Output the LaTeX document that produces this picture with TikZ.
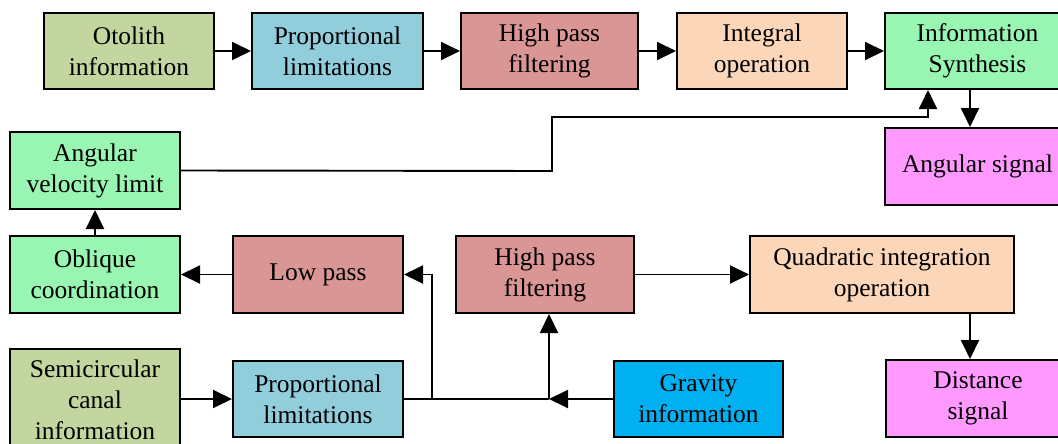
\documentclass[tikz,border=0pt]{standalone}
\usepackage{fontspec}
\setmainfont{Liberation Serif}
\usetikzlibrary{arrows.meta}
\definecolor{olivebox}{HTML}{C4D6A0}
\definecolor{bluebox}{HTML}{92CDDC}
\definecolor{rosebox}{HTML}{D99694}
\definecolor{peachbox}{HTML}{FBD6B9}
\definecolor{greenbox}{HTML}{98F5B2}
\definecolor{pinkbox}{HTML}{FF99FF}
\definecolor{skybox}{HTML}{00B0F0}
\tikzset{
  blk/.style={draw=black, line width=2pt, rectangle, inner sep=0pt,
    align=center, font=\fontsize{25.5}{31}\selectfont,
    minimum width=170pt, minimum height=76pt},
  link/.style={line width=1.9pt, draw=black},
  arr/.style={link, -{Triangle[length=19pt,width=18pt]}},
}
\begin{document}
\begin{tikzpicture}[x=1pt, y=-1pt]
\useasboundingbox (0,0) rectangle (1058,444);
\begin{scope}
\clip (0,0) rectangle (1058,444);
% top chain
\node[blk, fill=olivebox] (oto) at (129,51) {Otolith\\information};
\node[blk, fill=bluebox, minimum width=171pt] (prop1) at (337.5,51) {Proportional\\limitations};
\node[blk, fill=rosebox, minimum width=177pt] (hp1) at (549.5,51) {High pass\\filtering};
\node[blk, fill=peachbox] (integ) at (762,51) {Integral\\operation};
\node[blk, fill=greenbox, minimum width=185pt] (synth) at (977.5,51) {Information\\Synthesis};
\node[blk, fill=pinkbox, minimum width=185pt, minimum height=77pt] (angsig) at (977.5,166.5) {Angular signal};
% left column
\node[blk, fill=greenbox, minimum height=77pt] (avl) at (95,170.5) {Angular\\velocity limit};
\node[blk, fill=greenbox, minimum height=77pt] (obl) at (95,274.5) {Oblique\\coordination};
\node[blk, fill=rosebox, minimum height=77pt] (low) at (318,274.5) {Low pass};
\node[blk, fill=rosebox, minimum width=178pt, minimum height=77pt] (hp2) at (545,274.5) {High pass\\filtering};
\node[blk, fill=peachbox, minimum width=264pt, minimum height=77pt] (quad) at (882,274.5) {Quadratic integration\\operation};
% bottom row
\node[blk, fill=olivebox, minimum height=102pt] (semi) at (95,400) {Semicircular\\canal\\information};
\node[blk, fill=bluebox] (prop2) at (318,399) {Proportional\\limitations};
\node[blk, fill=skybox, minimum width=169pt] (grav) at (698.5,399) {Gravity\\information};
\node[blk, fill=pinkbox, minimum width=184pt, minimum height=77pt] (dist) at (978,398.5) {Distance\\signal};
\end{scope}
% junction points
\coordinate (jg) at (549,399);
\coordinate (jl) at (432,399);
% top chain connectors
\draw[arr] (oto.east) -- (prop1.west);
\draw[arr] (prop1.east) -- (hp1.west);
\draw[arr] (hp1.east) -- (integ.west);
\draw[arr] (integ.east) -- (synth.west);
\draw[arr] (synth.south -| 970,0) -- (angsig.north -| 970,0);
% feedback from angular velocity limit into synthesis
\draw[arr] (avl.east) -- (552,171) -- (552,117) -- (928,117) -- (synth.south -| 928,0);
% left column
\draw[arr] (obl.north) -- (avl.south);
\draw[arr] (low.west) -- (obl.east);
% bottom chain
\draw[arr] (semi.east |- prop2.west) -- (prop2.west);
\draw[link] (prop2.east) -- (jg);
\draw[arr] (jl) -- (jl |- low.east) -- (low.east);
\draw[arr] (grav.west) -- (jg);
\draw[arr] (jg) -- (hp2.south -| jg);
\draw[arr] (hp2.east) -- (quad.west);
\draw[arr] (quad.south -| 970,0) -- (dist.north -| 970,0);
\end{tikzpicture}
\end{document}
